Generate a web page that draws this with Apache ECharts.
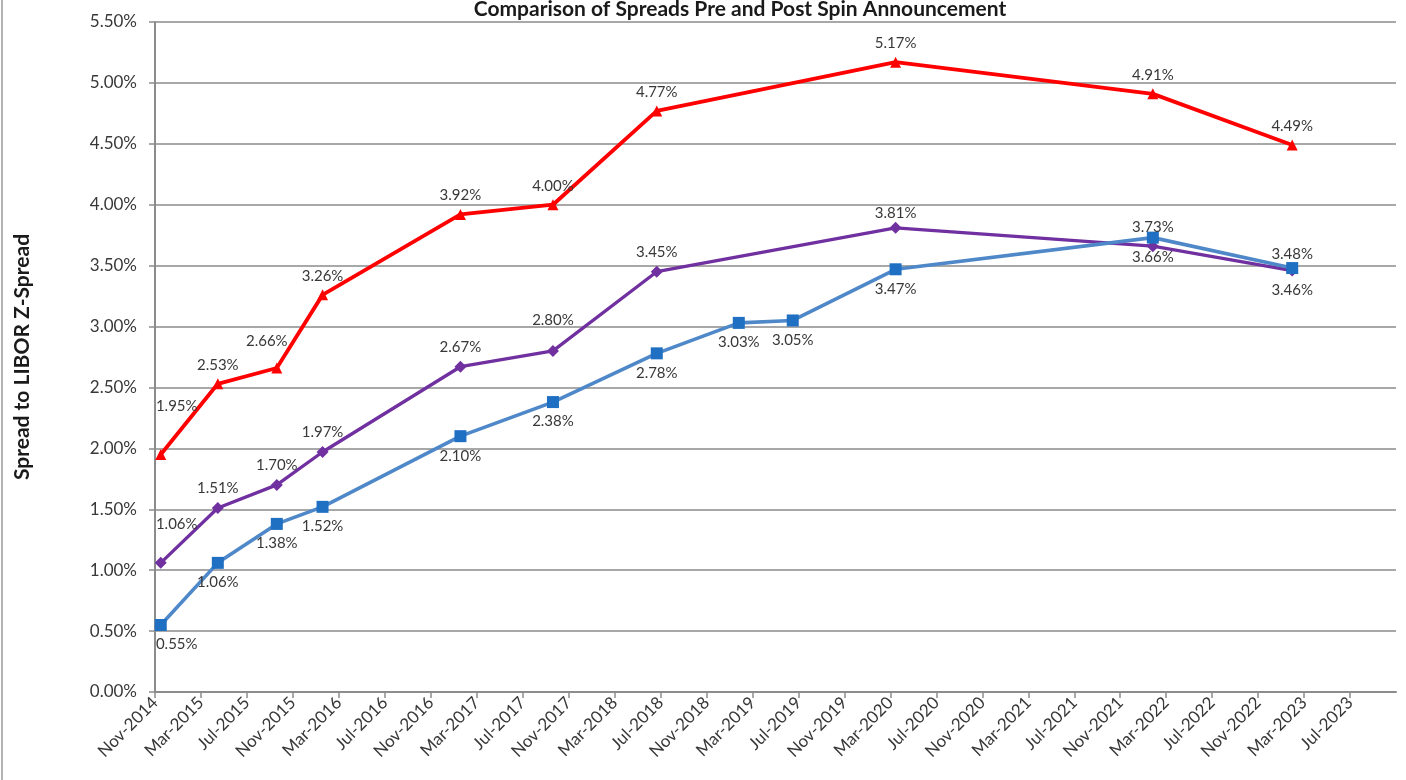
<!DOCTYPE html>
<html>
<head>
<meta charset="utf-8">
<title>Comparison of Spreads Pre and Post Spin Announcement</title>
<script src="https://cdn.jsdelivr.net/npm/echarts@6/dist/echarts.min.js"></script>
<style>
  html, body { margin: 0; padding: 0; background: #ffffff; }
  #chart { width: 1406px; height: 780px; }
</style>
</head>
<body>
<div id="chart"></div>
<script>
// Observation dates shared by the red and purple series
const dates = ['2014-11-16', '2015-04-15', '2015-09-19', '2016-01-19', '2017-01-19',
               '2017-09-20', '2018-06-21', '2020-03-15', '2022-01-27', '2023-01-31'];
// Blue series has two extra observations in 2019
const blueDates = ['2014-11-16', '2015-04-15', '2015-09-19', '2016-01-19', '2017-01-19',
                   '2017-09-20', '2018-06-21', '2019-01-26', '2019-06-16', '2020-03-15',
                   '2022-01-27', '2023-01-31'];

// Spread to LIBOR Z-spread, in percent
const redValues    = [1.95, 2.53, 2.66, 3.26, 3.92, 4.00, 4.77, 5.17, 4.91, 4.49];
const purpleValues = [1.06, 1.51, 1.70, 1.97, 2.67, 2.80, 3.45, 3.81, 3.66, 3.46];
const blueValues   = [0.55, 1.06, 1.38, 1.52, 2.10, 2.38, 2.78, 3.03, 3.05, 3.47, 3.73, 3.48];

// Axis: months counted from Nov-2014, one tick every 4 months
const axisStart = { year: 2014, month: 11 };
const axisMonths = 108;
const monthNames = ['Jan','Feb','Mar','Apr','May','Jun','Jul','Aug','Sep','Oct','Nov','Dec'];

function monthOffset(dateStr) {
  const [y, m, d] = dateStr.split('-').map(Number);
  const days = new Date(y, m, 0).getDate();
  return (y - axisStart.year) * 12 + (m - axisStart.month) + (d - 1) / days;
}
function tickLabel(v) {
  const total = axisStart.year * 12 + (axisStart.month - 1) + Math.round(v);
  return monthNames[total % 12] + '-' + Math.floor(total / 12);
}
function pct(v) { return v.toFixed(2) + '%'; }

// Label placement tweaks (index -> {position, offset})
const redLabelTweaks = { 0: { offset: [16, -29] }, 2: { offset: [-10, -8] } };
const purpleLabelTweaks = {
  0: { offset: [16, -19] }, 5: { offset: [0, -11] }, 7: { offset: [0, 5] },
  8: { position: 'bottom', offset: [0, -8] }, 9: { position: 'bottom' }
};
const blueLabelTweaks = {
  0: { offset: [16, 0] },
  10: { position: 'top', offset: [0, 9] }, 11: { position: 'top', offset: [0, 6] }
};

function buildData(xs, ys, tweaks) {
  return ys.map((v, i) => {
    const item = { value: [monthOffset(xs[i]), v] };
    if (tweaks[i]) item.label = tweaks[i];
    return item;
  });
}

const labelFont = { fontFamily: 'Lato', fontSize: 15, color: '#383838' };

const chart = echarts.init(document.getElementById('chart'), null, { renderer: 'canvas' });
chart.setOption({
  animation: false,
  backgroundColor: '#ffffff',
  title: {
    text: 'Comparison of Spreads Pre and Post Spin Announcement',
    left: 735, textAlign: 'center', top: -6,
    textStyle: { fontFamily: 'Lato', fontSize: 21, fontWeight: 'bold', color: '#1a1a1a' }
  },
  graphic: [{
    type: 'line', shape: { x1: 2, y1: 0, x2: 2, y2: 780 },
    style: { stroke: '#b4b4b4', lineWidth: 2 }
  }],
  grid: { left: 155, right: 10, top: 22, bottom: 88, containLabel: false },
  xAxis: {
    type: 'value', min: 0, max: axisMonths, interval: 4,
    axisLine: { show: true, lineStyle: { color: '#8c8c8c', width: 2 } },
    axisTick: { show: true, length: 6, lineStyle: { color: '#8c8c8c', width: 1.5 } },
    splitLine: { show: false },
    axisLabel: {
      rotate: 45, margin: 8, showMaxLabel: false, showMinLabel: true,
      formatter: tickLabel,
      fontFamily: 'Lato', fontSize: 17, color: '#383838'
    }
  },
  yAxis: {
    type: 'value', min: 0, max: 5.5, interval: 0.5,
    name: 'Spread to LIBOR Z-Spread', nameLocation: 'middle', nameGap: 122, nameRotate: 90,
    nameTextStyle: { fontFamily: 'Lato', fontSize: 21, fontWeight: 'bold', color: '#1a1a1a' },
    axisLine: { show: true, lineStyle: { color: '#8c8c8c', width: 2 } },
    axisTick: { show: true, inside: false, length: 6, lineStyle: { color: '#8c8c8c', width: 1.5 } },
    splitLine: { show: true, lineStyle: { color: '#a8a8a8', width: 1.8 } },
    axisLabel: {
      formatter: pct, margin: 18,
      fontFamily: 'Lato', fontSize: 17, color: '#383838'
    }
  },
  series: [
    {
      name: 'red', type: 'line',
      data: buildData(dates, redValues, redLabelTweaks),
      symbol: 'triangle', symbolSize: 11,
      lineStyle: { color: '#ff0000', width: 3.8 },
      itemStyle: { color: '#ff0000' },
      label: { show: true, position: 'top', distance: 6, formatter: p => pct(p.value[1]), ...labelFont },
      z: 3
    },
    {
      name: 'purple', type: 'line',
      data: buildData(dates, purpleValues, purpleLabelTweaks),
      symbol: 'diamond', symbolSize: 12,
      lineStyle: { color: '#7030a0', width: 3.3 },
      itemStyle: { color: '#7030a0' },
      label: { show: true, position: 'top', distance: 6, formatter: p => pct(p.value[1]), ...labelFont },
      z: 4
    },
    {
      name: 'blue', type: 'line',
      data: buildData(blueDates, blueValues, blueLabelTweaks),
      symbol: 'rect', symbolSize: 12,
      lineStyle: { color: '#4f88c8', width: 3.6 },
      itemStyle: { color: '#1f6fc2' },
      label: { show: true, position: 'bottom', distance: 6, formatter: p => pct(p.value[1]), ...labelFont },
      z: 5
    }
  ]
});
</script>
</body>
</html>
